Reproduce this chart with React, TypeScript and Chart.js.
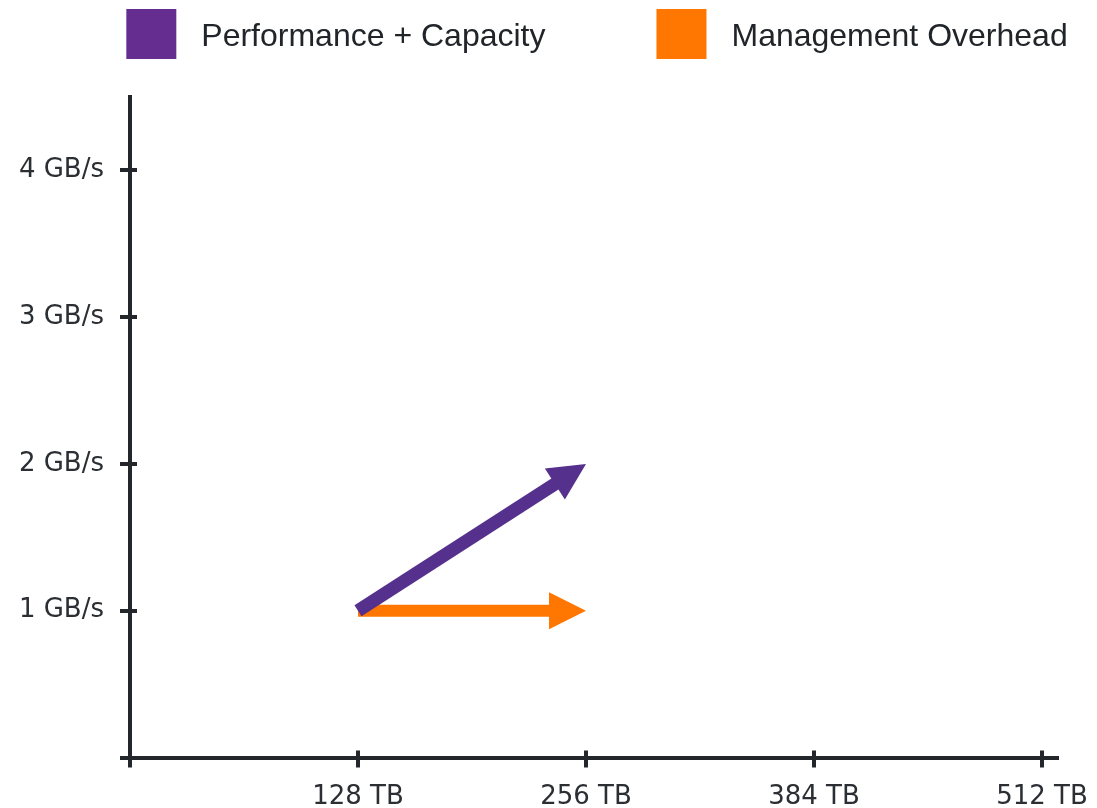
import { useEffect, useRef } from 'react';
import { Chart, registerables } from 'chart.js';

Chart.register(...registerables);

// ---- data ----
const seriesNames = ['Performance + Capacity', 'Management Overhead'];
const capacityTB = [128, 256];
const perfCapacityGBs = [1, 2];
const mgmtOverheadGBs = [1, 1];
const xTickValues = [0, 128, 256, 384, 512];
const xTickLabels = ['', '128 TB', '256 TB', '384 TB', '512 TB'];
const yTickValues = [0, 1, 2, 3, 4];
const yTickLabels = ['', '1 GB/s', '2 GB/s', '3 GB/s', '4 GB/s'];

// ---- styles ----
const purpleLine = '#55308d';
const purpleBox = '#662d91';
const orange = '#ff7700';
const axisColor = '#23272b';
const labelColor = '#2b2f33';
const HEAD_LEN = 37;
const HEAD_HALF = 18.5;

const arrowPlugin = {
  id: 'arrowHeads',
  beforeDatasetDraw(chart: any, args: any) {
    const meta = args.meta;
    const pts = meta.data;
    const ctx = chart.ctx;
    ctx.save();
    if (!pts || pts.length < 2) return;
    const a = pts[pts.length - 2];
    const b = pts[pts.length - 1];
    const dx = b.x - a.x;
    const dy = b.y - a.y;
    const len = Math.hypot(dx, dy) || 1;
    const ux = dx / len;
    const uy = dy / len;
    const px = -uy;
    const py = ux;
    const bx = b.x - ux * (HEAD_LEN - 2);
    const by = b.y - uy * (HEAD_LEN - 2);
    const big = 4000;
    ctx.beginPath();
    ctx.moveTo(bx + px * big, by + py * big);
    ctx.lineTo(bx - px * big, by - py * big);
    ctx.lineTo(bx - px * big - ux * big, by - py * big - uy * big);
    ctx.lineTo(bx + px * big - ux * big, by + py * big - uy * big);
    ctx.closePath();
    ctx.clip();
  },
  afterDatasetDraw(chart: any, args: any) {
    const ctx = chart.ctx;
    ctx.restore();
    const meta = args.meta;
    const pts = meta.data;
    if (!pts || pts.length < 2) return;
    const ds = chart.data.datasets[args.index];
    const a = pts[pts.length - 2];
    const b = pts[pts.length - 1];
    const dx = b.x - a.x;
    const dy = b.y - a.y;
    const len = Math.hypot(dx, dy) || 1;
    const ux = dx / len;
    const uy = dy / len;
    const px = -uy;
    const py = ux;
    const bx = b.x - ux * HEAD_LEN;
    const by = b.y - uy * HEAD_LEN;
    ctx.save();
    ctx.fillStyle = ds.borderColor;
    ctx.beginPath();
    ctx.moveTo(b.x, b.y);
    ctx.lineTo(bx + px * HEAD_HALF, by + py * HEAD_HALF);
    ctx.lineTo(bx - px * HEAD_HALF, by - py * HEAD_HALF);
    ctx.closePath();
    ctx.fill();
    ctx.restore();
  },
};

const crossTicksPlugin = {
  id: 'crossTicks',
  afterDraw(chart: any) {
    const ctx = chart.ctx;
    const xs = chart.scales.x;
    const ys = chart.scales.y;
    const area = chart.chartArea;
    ctx.save();
    ctx.strokeStyle = axisColor;
    ctx.lineWidth = 4;
    ctx.beginPath();
    xs.ticks.forEach((t: any) => {
      const p = Math.round(xs.getPixelForValue(t.value));
      ctx.moveTo(p, area.bottom - 7);
      ctx.lineTo(p, area.bottom + 10);
    });
    ys.ticks.forEach((t: any) => {
      const p = Math.round(ys.getPixelForValue(t.value));
      ctx.moveTo(area.left - 10, p);
      ctx.lineTo(area.left + 7, p);
    });
    ctx.stroke();
    ctx.restore();
  },
};

const legendPlugin = {
  id: 'boxLegend',
  afterDraw(chart: any) {
    const ctx = chart.ctx;
    const area = chart.chartArea;
    const boxSize = 50;
    const gap = 25;
    const itemGap = 111;
    const boxTop = 9;
    const baseline = 46;
    ctx.save();
    ctx.font = '32px "Liberation Sans", Arial, Helvetica, sans-serif';
    const items = chart.data.datasets.map((ds: any) => ({
      text: ds.label,
      color: ds.backgroundColor,
      w: ctx.measureText(ds.label).width,
    }));
    let total = 0;
    items.forEach((it: any, i: number) => {
      total += boxSize + gap + it.w + (i > 0 ? itemGap : 0);
    });
    let x = (area.left + area.right) / 2 - total / 2 + 3;
    items.forEach((it: any) => {
      ctx.fillStyle = it.color;
      ctx.fillRect(x, boxTop, boxSize, boxSize);
      ctx.fillStyle = '#212529';
      ctx.textBaseline = 'alphabetic';
      ctx.textAlign = 'left';
      ctx.fillText(it.text, x + boxSize + gap, baseline);
      x += boxSize + gap + it.w + itemGap;
    });
    ctx.restore();
  },
};

export default function App() {
  const ref = useRef<HTMLCanvasElement | null>(null);

  useEffect(() => {
    if (!ref.current) return;
    const tickFont = { family: '"DejaVu Sans", Verdana, sans-serif', size: 26 };
    const chart = new Chart(ref.current, {
      type: 'scatter',
      data: {
        datasets: [
          {
            label: seriesNames[0],
            data: capacityTB.map((x, i) => ({ x, y: perfCapacityGBs[i] })),
            showLine: true,
            borderColor: purpleLine,
            backgroundColor: purpleBox,
            borderWidth: 13,
            borderCapStyle: 'butt',
            pointRadius: 0,
            pointHoverRadius: 0,
          },
          {
            label: seriesNames[1],
            data: capacityTB.map((x, i) => ({ x, y: mgmtOverheadGBs[i] })),
            showLine: true,
            borderColor: orange,
            backgroundColor: orange,
            borderWidth: 12,
            borderCapStyle: 'butt',
            pointRadius: 0,
            pointHoverRadius: 0,
          },
        ],
      },
      options: {
        animation: false,
        responsive: true,
        maintainAspectRatio: false,
        layout: { autoPadding: false, padding: { top: 97, left: 0, right: 39, bottom: 0 } },
        plugins: {
          legend: { display: false },
          tooltip: { enabled: false },
        },
        scales: {
          x: {
            type: 'linear',
            bounds: 'data',
            min: 0,
            max: 521,
            grid: { display: false, drawTicks: false },
            border: { display: true, color: axisColor, width: 4 },
            afterBuildTicks: (s: any) => {
              s.ticks = xTickValues.map((v) => ({ value: v }));
            },
            afterFit: (s: any) => {
              s.height = 50.5;
              s.paddingLeft = 0;
              s.paddingRight = 0;
            },
            ticks: {
              autoSkip: false,
              maxRotation: 0,
              minRotation: 0,
              padding: 24,
              color: labelColor,
              font: tickFont,
              callback: (v: any) => {
                const i = xTickValues.indexOf(Number(v));
                return i >= 0 ? xTickLabels[i] : '';
              },
            },
          },
          y: {
            type: 'linear',
            bounds: 'data',
            min: 0,
            max: 4.5,
            grid: { display: false, drawTicks: false },
            border: { display: true, color: axisColor, width: 4 },
            afterBuildTicks: (s: any) => {
              s.ticks = yTickValues.map((v) => ({ value: v }));
            },
            afterFit: (s: any) => {
              s.width = 130;
              s.paddingTop = 0;
              s.paddingBottom = 0;
            },
            ticks: {
              autoSkip: false,
              padding: 26,
              color: labelColor,
              font: tickFont,
              callback: (v: any) => {
                const i = yTickValues.indexOf(Number(v));
                return i >= 0 ? yTickLabels[i] : '';
              },
            },
          },
        },
      },
      plugins: [arrowPlugin, crossTicksPlugin, legendPlugin],
    } as any);
    return () => chart.destroy();
  }, []);

  return (
    <div style={{ position: 'fixed', left: 0, top: 0, width: 1097, height: 808, background: '#fff' }}>
      <canvas ref={ref} />
    </div>
  );
}
